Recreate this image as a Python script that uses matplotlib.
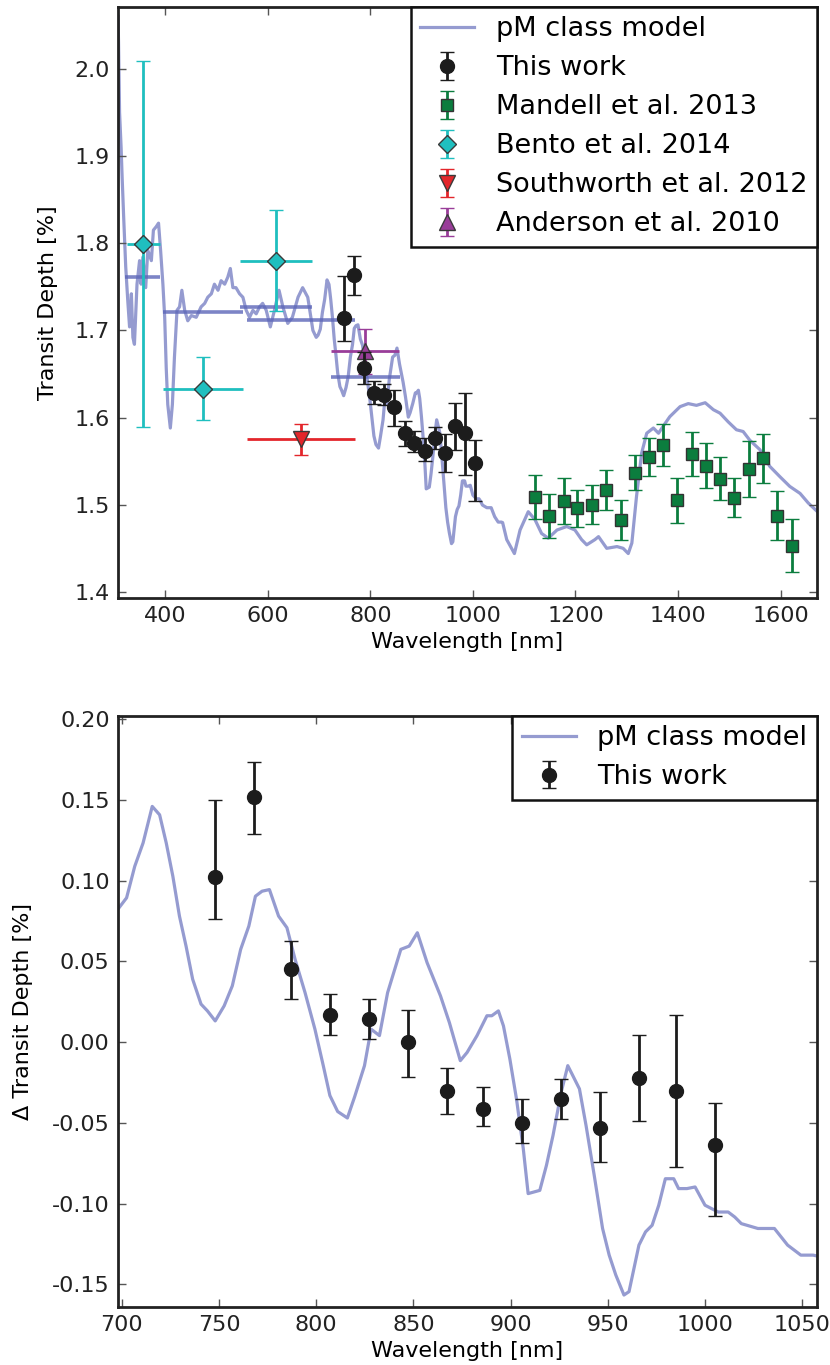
import numpy as np
import matplotlib
matplotlib.use("Agg")
import matplotlib.pyplot as plt

plt.rcParams['font.family'] = ['DejaVu Sans']

# ---------------- data ----------------
# mean transit depth of this work [%]; the lower panel shows depth minus this value
mean_depth = 1.612

# this work (spectrophotometric light curves)
work_wl = [748, 768, 787, 807, 827, 847, 867, 886, 906, 926, 946, 966, 985, 1005]
work_delta = [0.1025, 0.152, 0.045, 0.0167, 0.014, 0.000, -0.030, -0.0416,
              -0.0498, -0.0352, -0.0529, -0.022, -0.030, -0.0636]
work_err_up = [0.0475, 0.0216, 0.0177, 0.0132, 0.0127, 0.020, 0.014, 0.014,
               0.0148, 0.0125, 0.022, 0.0265, 0.0467, 0.0261]
work_err_dn = [0.0265, 0.023, 0.0183, 0.0126, 0.012, 0.0216, 0.0143, 0.0103,
               0.0125, 0.0125, 0.0211, 0.0268, 0.0476, 0.0438]

# Mandell et al. 2013 (HST/WFC3)
mandell_wl = [1121, 1149, 1177, 1204, 1232, 1260, 1288, 1316, 1344, 1371,
              1399, 1427, 1454, 1482, 1510, 1538, 1566, 1594, 1622]
mandell_depth = [1.5086, 1.4868, 1.5044, 1.496, 1.5001, 1.517, 1.4822, 1.5365,
                 1.5545, 1.5686, 1.5052, 1.558, 1.5448, 1.530, 1.5081, 1.541,
                 1.5533, 1.4875, 1.4531]
mandell_err = [0.025, 0.025, 0.026, 0.021, 0.022, 0.023, 0.023, 0.020, 0.022,
               0.024, 0.026, 0.025, 0.026, 0.025, 0.022, 0.032, 0.028, 0.028,
               0.030]

# Bento et al. 2014
bento_wl = [357, 474, 616]
bento_wl_err = [32, 78, 70]
bento_depth = [1.799, 1.633, 1.780]
bento_err = [0.21, 0.036, 0.058]

# Southworth et al. 2012
south_wl = [665]
south_wl_err = [106]
south_depth = [1.575]
south_err = [0.018]

# Anderson et al. 2010
anders_wl = [790]
anders_wl_err = [66]
anders_depth = [1.676]
anders_err = [0.026]

# model binned over the literature passbands
bin_lo = [322, 396, 546, 560, 724]
bin_hi = [390, 552, 687, 770, 858]
bin_depth = [1.761, 1.721, 1.727, 1.712, 1.647]

# pM class model spectrum: blue part (absolute depth)
model_blue_wl = [308, 309, 311, 314, 316, 319, 323, 327, 330.5, 334,
                 337, 340, 345, 350, 353, 356.5, 362, 366, 373, 377,
                 382.5, 387, 391, 395.5, 399, 402, 405, 410, 414, 418,
                 423, 428, 432.5, 438, 444, 451, 460.5, 470, 477, 483,
                 490, 496, 503, 509, 516, 522, 527, 532, 538, 545,
                 551.5, 558, 564.5, 571, 577.5, 584, 590, 597, 605, 613,
                 622, 629.5, 639, 648, 659, 668, 678, 688, 694.5]
model_blue_depth = [2.06, 2.03, 1.95, 1.91, 1.876, 1.83, 1.773, 1.734, 1.704, 1.742,
                    1.692, 1.684, 1.753, 1.78, 1.753, 1.784, 1.749, 1.792, 1.78, 1.815,
                    1.819, 1.823, 1.792, 1.753, 1.715, 1.657, 1.615, 1.588, 1.615, 1.669,
                    1.723, 1.727, 1.746, 1.723, 1.711, 1.717, 1.715, 1.727, 1.731, 1.738,
                    1.742, 1.753, 1.746, 1.757, 1.753, 1.761, 1.771, 1.749, 1.749, 1.742,
                    1.738, 1.723, 1.715, 1.723, 1.719, 1.727, 1.731, 1.723, 1.704, 1.723,
                    1.746, 1.727, 1.708, 1.715, 1.738, 1.749, 1.738, 1.700, 1.692]

# pM class model spectrum: 700-1060 nm (relative to mean depth)
model_nir_wl = [698.1, 702.4, 706.6, 710.9, 715.6, 719.4, 722.8, 726.2, 729.6,
                733.0, 736.4, 740.7, 744.0, 748.0, 752.6, 756.8, 761.1, 765.3,
                768.7, 772.1, 775.9, 780.6, 784.9, 789.1, 794.2, 799.3, 803.6,
                807.0, 811.0, 816.0, 819.7, 824.8, 828.2, 832.5, 836.7, 843.5,
                847.8, 852.0, 857.0, 863.9, 868.5, 874.1, 877.6, 882.7, 887.8,
                890.3, 893.7, 896.3, 899.6, 903.0, 906.5, 909.0, 915.0, 918.4,
                921.8, 926.0, 929.4, 932.0, 935.4, 938.8, 943.0, 947.3, 950.7,
                954.1, 958.3, 960.9, 966.0, 969.4, 972.8, 976.2, 979.6, 983.9,
                986.4, 990.7, 994.9, 1000.0, 1006.8, 1011.9, 1015.3, 1018.7,
                1027.2, 1035.7, 1042.5, 1049.3, 1055.6, 1058.0]
model_nir_delta = [0.0825, 0.0893, 0.1088, 0.1233, 0.1459, 0.1407, 0.1233,
                   0.1027, 0.078, 0.0594, 0.0389, 0.0235, 0.0193, 0.0131,
                   0.0224, 0.0348, 0.0574, 0.0718, 0.0903, 0.0934, 0.0944,
                   0.078, 0.0708, 0.0512, 0.0307, 0.008, -0.0146, -0.0331,
                   -0.043, -0.047, -0.034, -0.0146, 0.008, 0.004, 0.0306,
                   0.0574, 0.0594, 0.0677, 0.0492, 0.0286, 0.012, -0.0115,
                   -0.0064, 0.004, 0.0163, 0.0163, 0.0193, 0.010, -0.0105,
                   -0.0352, -0.066, -0.0938, -0.0918, -0.0764, -0.0578,
                   -0.0311, -0.0146, -0.0208, -0.029, -0.0517, -0.0825,
                   -0.1154, -0.1319, -0.1442, -0.1566, -0.1545, -0.1257,
                   -0.1175, -0.1134, -0.101, -0.0846, -0.0846, -0.0907,
                   -0.0907, -0.0897, -0.101, -0.1052, -0.1052, -0.1083,
                   -0.1124, -0.1154, -0.1154, -0.1257, -0.1319, -0.1319,
                   -0.1325]

# pM class model spectrum: infrared part (absolute depth)
model_ir_wl = [1066, 1081, 1092, 1108, 1121, 1134, 1147, 1164, 1183, 1199,
               1212, 1222, 1238, 1245, 1261, 1281, 1293, 1303, 1310, 1319,
               1329, 1339, 1352, 1362, 1371, 1384, 1404, 1420, 1436, 1453,
               1469, 1482, 1498, 1514, 1527, 1540, 1560, 1579, 1599, 1618,
               1638, 1654, 1672]
model_ir_depth = [1.46, 1.444, 1.471, 1.492, 1.483, 1.467, 1.4616, 1.471,
                  1.475, 1.471, 1.46, 1.454, 1.46, 1.4634, 1.45, 1.452, 1.45,
                  1.444, 1.456, 1.509, 1.559, 1.582, 1.588, 1.582, 1.59,
                  1.601, 1.6125, 1.616, 1.614, 1.617, 1.609, 1.605, 1.595,
                  1.586, 1.584, 1.574, 1.563, 1.544, 1.532, 1.521, 1.513,
                  1.502, 1.492]

# ---------------- styles ----------------
model_color = '#5c66b8'
model_alpha = 0.65
black = '#1c1c1c'
cyan = '#1fbfbf'
green = '#0b7d3e'
red = '#e3262b'
magenta = '#993d99'

fig = plt.figure(figsize=(8.30, 13.65), dpi=100)
ax1 = fig.add_axes([0.1422, 0.5619, 0.8421, 0.4330])
ax2 = fig.add_axes([0.1422, 0.0425, 0.8421, 0.4330])

err_kw = dict(capsize=5, capthick=1.0, elinewidth=2.0, linestyle='none',
              markeredgewidth=1.0)
leg_kw = dict(loc='upper right', fontsize=19.5, borderaxespad=0,
              fancybox=False, framealpha=1, edgecolor='#111111',
              handlelength=2.0, handletextpad=0.8, labelspacing=0.48,
              borderpad=0.35, numpoints=1)

# ---------------- top panel ----------------
model_wl = np.concatenate([model_blue_wl, model_nir_wl, model_ir_wl])
model_depth = np.concatenate([model_blue_depth,
                              np.asarray(model_nir_delta) + mean_depth,
                              model_ir_depth])
h_model, = ax1.plot(model_wl, model_depth, color=model_color,
                    alpha=model_alpha, lw=2.3, zorder=1,
                    label='pM class model')
ax1.hlines(bin_depth, bin_lo, bin_hi, color=model_color, alpha=0.8, lw=2.6,
           zorder=1.5)

work_depth = np.asarray(work_delta) + mean_depth
h_work = ax1.errorbar(work_wl, work_depth,
                      yerr=[work_err_dn, work_err_up], fmt='o', ms=10,
                      color=black, mfc=black, mec=black, ecolor=black,
                      zorder=5, label='This work', **err_kw)
h_mandell = ax1.errorbar(mandell_wl, mandell_depth, yerr=mandell_err,
                         fmt='s', ms=9, mfc=green, mec='#333333',
                         ecolor=green, zorder=4,
                         label='Mandell et al. 2013', **err_kw)

# horizontal passband widths of the literature points
ax1.hlines(bento_depth, np.subtract(bento_wl, bento_wl_err),
           np.add(bento_wl, bento_wl_err), color=cyan, lw=2.0, zorder=3)
ax1.hlines(south_depth, np.subtract(south_wl, south_wl_err),
           np.add(south_wl, south_wl_err), color=red, lw=2.0, zorder=3)
ax1.hlines(anders_depth, np.subtract(anders_wl, anders_wl_err),
           np.add(anders_wl, anders_wl_err), color=magenta, lw=2.0, zorder=3)

h_bento = ax1.errorbar(bento_wl, bento_depth, yerr=bento_err, fmt='D', ms=9,
                       mfc=cyan, mec='#3a3a3a', ecolor=cyan, zorder=4,
                       label='Bento et al. 2014', **err_kw)
h_south = ax1.errorbar(south_wl, south_depth, yerr=south_err, fmt='v',
                       ms=11, mfc=red, mec='#3a3a3a', ecolor=red, zorder=4,
                       label='Southworth et al. 2012', **err_kw)
h_anders = ax1.errorbar(anders_wl, anders_depth, yerr=anders_err, fmt='^',
                        ms=11, mfc=magenta, mec='#3a3a3a', ecolor=magenta,
                        zorder=4, label='Anderson et al. 2010', **err_kw)

ax1.set_xlim(308, 1671)
ax1.set_ylim(1.393, 2.071)
ax1.set_xticks([400, 600, 800, 1000, 1200, 1400, 1600])
ax1.set_yticks([1.4, 1.5, 1.6, 1.7, 1.8, 1.9, 2.0])
ax1.set_yticklabels(['1.4', '1.5', '1.6', '1.7', '1.8', '1.9', '2.0'])
ax1.set_xlabel('Wavelength [nm]', fontsize=16, labelpad=4)
ax1.set_ylabel('Transit Depth [%]', fontsize=16)
ax1.yaxis.set_label_coords(-0.086, 0.5)

leg1 = ax1.legend(handles=[h_model, h_work, h_mandell, h_bento, h_south,
                           h_anders], **leg_kw)
leg1.get_frame().set_linewidth(1.8)

# ---------------- bottom panel ----------------
h_model2, = ax2.plot(model_nir_wl, model_nir_delta, color=model_color,
                     alpha=model_alpha, lw=2.3, zorder=1,
                     label='pM class model')
h_work2 = ax2.errorbar(work_wl, work_delta, yerr=[work_err_dn, work_err_up],
                       fmt='o', ms=10, color=black, mfc=black, mec=black,
                       ecolor=black, zorder=5, label='This work', **err_kw)
ax2.set_xlim(698, 1057.6)
ax2.set_ylim(-0.164, 0.2019)
ax2.set_xticks([700, 750, 800, 850, 900, 950, 1000, 1050])
ax2.set_yticks([-0.15, -0.10, -0.05, 0.0, 0.05, 0.10, 0.15, 0.20])
ax2.set_yticklabels(['-0.15', '-0.10', '-0.05', '0.00',
                     '0.05', '0.10', '0.15', '0.20'])
ax2.set_xlabel('Wavelength [nm]', fontsize=16, labelpad=4)
ax2.set_ylabel('\u0394 Transit Depth [%]', fontsize=16)
ax2.yaxis.set_label_coords(-0.122, 0.5)

leg2 = ax2.legend(handles=[h_model2, h_work2], **leg_kw)
leg2.get_frame().set_linewidth(1.8)

for ax in (ax1, ax2):
    ax.tick_params(direction='in', length=6, width=1.0, color='#555555',
                   labelsize=16, top=True, right=True, pad=6,
                   labelcolor='#222222')
    for sp in ax.spines.values():
        sp.set_linewidth(2.0)
        sp.set_color('#222222')

fig.savefig('out.png', dpi=100)
